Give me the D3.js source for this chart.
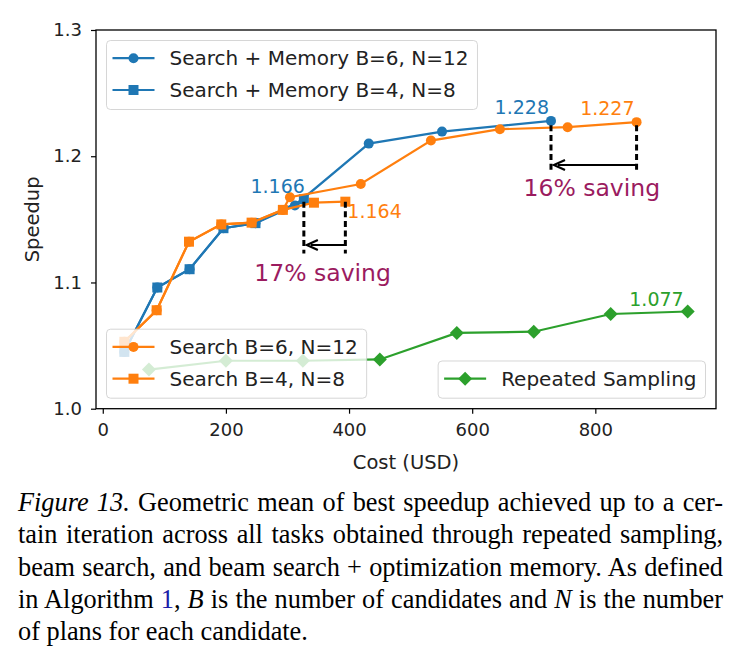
<!DOCTYPE html>
<html>
<head>
<meta charset="utf-8">
<script src="https://cdn.jsdelivr.net/npm/d3@7"></script>
<style>
  body { margin: 0; background: #fff; width: 739px; height: 665px; overflow: hidden; position: relative; }
  svg { position: absolute; left: 0; top: 0; }
  #caption { position: absolute; left: 18px; top: 487px; width: 705px;
    font-family: "Liberation Serif", "Times New Roman", serif; font-size: 26.3px; line-height: 32.3px; color: #000; }
  #caption .ln { white-space: nowrap; display: block; }
  #caption .ln span.inner { display: inline-block; }
</style>
</head>
<body>
<svg id="chart"></svg>
<div id="caption">
  <div class="ln"><span class="inner"><i>Figure 13.</i> Geometric mean of best speedup achieved up to a cer-</span></div>
  <div class="ln"><span class="inner">tain iteration across all tasks obtained through repeated sampling,</span></div>
  <div class="ln"><span class="inner">beam search, and beam search + optimization memory. As defined</span></div>
  <div class="ln"><span class="inner">in Algorithm <span style="color:#1c1ca8">1</span>, <i>B</i> is the number of candidates and <i>N</i> is the number</span></div>
  <div class="ln last"><span class="inner">of plans for each candidate.</span></div>
</div>
<script>
// values
const memB6Cost = [35, 88.6, 141, 196, 248, 312, 432, 551, 728];
const memB6Speed = [1.045, 1.096, 1.1105, 1.143, 1.147, 1.161, 1.210, 1.2195, 1.228];
const memB4Cost = [35, 88.6, 141, 196, 248, 326.6];
const memB4Speed = [1.045, 1.096, 1.1105, 1.143, 1.147, 1.166];
const srchB6Cost = [35, 87.5, 140, 192.5, 241.7, 292.5, 304, 419, 533, 645, 755, 867];
const srchB6Speed = [1.053, 1.078, 1.1323, 1.146, 1.1474, 1.1575, 1.1675, 1.178, 1.2124, 1.2214, 1.223, 1.227];
const srchB4Cost = [35, 87.5, 140, 192.5, 241.7, 292.5, 343, 394];
const srchB4Speed = [1.053, 1.078, 1.1323, 1.146, 1.1474, 1.1575, 1.1632, 1.164];
const rsCost = [75, 200, 325, 450, 575, 700, 825, 950];
const rsSpeed = [1.031, 1.038, 1.038, 1.039, 1.060, 1.061, 1.075, 1.077];

const xTicks = [0, 200, 400, 600, 800];
const yTicks = [1.0, 1.1, 1.2, 1.3];

const endLabels = [
  { text: "1.166", cost: 326.6, speed: 1.166, series: "memB4" },
  { text: "1.164", cost: 394, speed: 1.164, series: "srchB4" },
  { text: "1.228", cost: 728, speed: 1.228, series: "memB6" },
  { text: "1.227", cost: 867, speed: 1.227, series: "srchB6" },
  { text: "1.077", cost: 950, speed: 1.077, series: "rs" }
];

const savings = [
  { text: "17% saving", from: 326.6, to: 394, top: 1.164, bottom: 1.123, arrow: 1.1297, label: 1.1015 },
  { text: "16% saving", from: 728, to: 867, top: 1.2245, bottom: 1.1875, arrow: 1.193, label: 1.1685 }
];

const blue = "#1f77b4", orange = "#ff7f0e", green = "#2ca02c", purple = "#9b1b5f";

const series = [
  { id: "memB6", name: "Search + Memory B=6, N=12", cost: memB6Cost, speed: memB6Speed, color: blue, marker: "circle" },
  { id: "memB4", name: "Search + Memory B=4, N=8", cost: memB4Cost, speed: memB4Speed, color: blue, marker: "square" },
  { id: "srchB6", name: "Search B=6, N=12", cost: srchB6Cost, speed: srchB6Speed, color: orange, marker: "circle" },
  { id: "srchB4", name: "Search B=4, N=8", cost: srchB4Cost, speed: srchB4Speed, color: orange, marker: "square" },
  { id: "rs", name: "Repeated Sampling", cost: rsCost, speed: rsSpeed, color: green, marker: "diamond" }
];

const font = "'DejaVu Sans', sans-serif";
const svg = d3.select("#chart").attr("width", 739).attr("height", 482);

const x = d3.scaleLinear().domain([-11, 996]).range([96, 716]);
const y = d3.scaleLinear().domain([1.0, 1.3]).range([408.7, 30]);

function markerPath(type) {
  if (type === "circle") return d3.symbol(d3.symbolCircle, Math.PI * 5 * 5)();
  if (type === "square") return d3.symbol(d3.symbolSquare, 100)();
  return "M0,-7L7,0L0,7L-7,0Z";
}

// axes
const xAxis = svg.append("g")
  .attr("transform", `translate(0,${y.range()[0]})`)
  .call(d3.axisBottom(x).tickValues(xTicks).tickSize(5).tickPadding(10).tickFormat(d3.format("d")));
const yAxis = svg.append("g")
  .attr("transform", `translate(${x.range()[0]},0)`)
  .call(d3.axisLeft(y).tickValues(yTicks).tickSize(5).tickPadding(9).tickFormat(d3.format(".1f")));
[xAxis, yAxis].forEach(a => {
  a.select(".domain").remove();
  a.selectAll(".tick line").attr("stroke", "#000").attr("stroke-width", 1.2);
  a.selectAll(".tick text").attr("fill", "#222").style("font-family", font).style("font-size", "18px");
});

svg.append("text")
  .attr("x", (x.range()[0] + x.range()[1]) / 2)
  .attr("y", 469)
  .attr("text-anchor", "middle")
  .style("font-family", font).style("font-size", "19.5px").attr("fill", "#222")
  .text("Cost (USD)");

svg.append("text")
  .attr("transform", `translate(39,${(y.range()[0] + y.range()[1]) / 2}) rotate(-90)`)
  .attr("text-anchor", "middle")
  .style("font-family", font).style("font-size", "19.5px").attr("fill", "#222")
  .text("Speedup");

// series
const line = d3.line().x(d => x(d[0])).y(d => y(d[1]));
series.forEach(s => {
  const pts = s.cost.map((c, i) => [c, s.speed[i]]);
  const g = svg.append("g");
  g.append("path").datum(pts)
    .attr("d", line)
    .attr("fill", "none")
    .attr("stroke", s.color)
    .attr("stroke-width", 2.2);
  g.selectAll("path.mk").data(pts).join("path")
    .attr("class", "mk")
    .attr("d", markerPath(s.marker))
    .attr("transform", d => `translate(${x(d[0])},${y(d[1])})`)
    .attr("fill", s.color);
});

// end value labels
const labelPlacement = {
  memB4: { anchor: "end", dx: 1, dy: -6 },
  srchB4: { anchor: "start", dx: 2, dy: 16.5 },
  memB6: { anchor: "end", dx: -2, dy: -7 },
  srchB6: { anchor: "end", dx: -2, dy: -7 },
  rs: { anchor: "end", dx: -4, dy: -5.5 }
};
endLabels.forEach(l => {
  const s = series.find(d => d.id === l.series);
  const p = labelPlacement[l.series];
  svg.append("text")
    .attr("x", x(l.cost) + p.dx)
    .attr("y", y(l.speed) + p.dy)
    .attr("text-anchor", p.anchor)
    .style("font-family", font).style("font-size", "19px")
    .attr("fill", s.color)
    .text(l.text);
});

// saving brackets
savings.forEach(sv => {
  const g = svg.append("g");
  [sv.from, sv.to].forEach(c => {
    g.append("line")
      .attr("x1", x(c)).attr("x2", x(c))
      .attr("y1", y(sv.top)).attr("y2", y(sv.bottom))
      .attr("stroke", "#000").attr("stroke-width", 3)
      .attr("stroke-dasharray", "6,3.6");
  });
  const tip = x(sv.from) + 3, ay = y(sv.arrow);
  g.append("line")
    .attr("x1", x(sv.to)).attr("x2", tip + 4)
    .attr("y1", ay).attr("y2", ay)
    .attr("stroke", "#000").attr("stroke-width", 2);
  g.append("path")
    .attr("d", `M${tip + 11},${ay - 5}L${tip},${ay}L${tip + 11},${ay + 5}`)
    .attr("fill", "none").attr("stroke", "#000").attr("stroke-width", 2.2)
    .attr("stroke-linejoin", "miter");
  g.append("text")
    .attr("x", (x(sv.from) + x(sv.to)) / 2 - 2)
    .attr("y", y(sv.label))
    .attr("text-anchor", "middle")
    .style("font-family", font).style("font-size", "23.5px")
    .attr("fill", purple)
    .text(sv.text);
});

// frame
svg.append("rect")
  .attr("x", x.range()[0]).attr("y", y.range()[1])
  .attr("width", x.range()[1] - x.range()[0])
  .attr("height", y.range()[0] - y.range()[1])
  .attr("fill", "none").attr("stroke", "#000").attr("stroke-width", 1.3);

// legends
function drawLegend(items, corner) {
  const g = svg.append("g");
  const box = g.append("rect")
    .attr("rx", 4).attr("ry", 4)
    .attr("fill", "rgba(255,255,255,0.8)")
    .attr("stroke", "rgba(204,204,204,0.8)").attr("stroke-width", 1);
  let maxLen = 0;
  items.forEach((s, i) => {
    const cy = 17.7 + i * 31.8;
    g.append("line").attr("x1", 6).attr("x2", 48).attr("y1", cy).attr("y2", cy)
      .attr("stroke", s.color).attr("stroke-width", 2.2);
    g.append("path").attr("d", markerPath(s.marker))
      .attr("transform", `translate(27,${cy})`).attr("fill", s.color);
    const t = g.append("text").attr("x", 63).attr("y", cy).attr("dy", "0.36em")
      .style("font-family", font).style("font-size", "20px").attr("fill", "#222")
      .text(s.name);
    maxLen = Math.max(maxLen, t.node().getComputedTextLength());
  });
  const w = 63 + maxLen + 9;
  const h = 17.7 + (items.length - 1) * 31.8 + 19.5;
  box.attr("width", w).attr("height", h);
  const pad = 10.5;
  const left = corner.includes("left") ? x.range()[0] + pad : x.range()[1] - pad - w;
  const top = corner.includes("top") ? y.range()[1] + pad : y.range()[0] - pad - h;
  g.attr("transform", `translate(${left},${top})`);
}
drawLegend(series.filter(s => s.id.startsWith("mem")), "top-left");
drawLegend(series.filter(s => s.id.startsWith("srch")), "bottom-left");
drawLegend(series.filter(s => s.id === "rs"), "bottom-right");

// justify caption lines
const target = 705;
d3.selectAll("#caption .ln").each(function () {
  const ln = d3.select(this);
  if (ln.classed("last")) return;
  const inner = ln.select("span.inner").node();
  const txt = inner.textContent;
  const spaces = (txt.match(/ /g) || []).length;
  const wNat = inner.getBoundingClientRect().width;
  if (spaces > 0) d3.select(inner).style("word-spacing", ((target - wNat) / spaces) + "px");
});
</script>
</body>
</html>
